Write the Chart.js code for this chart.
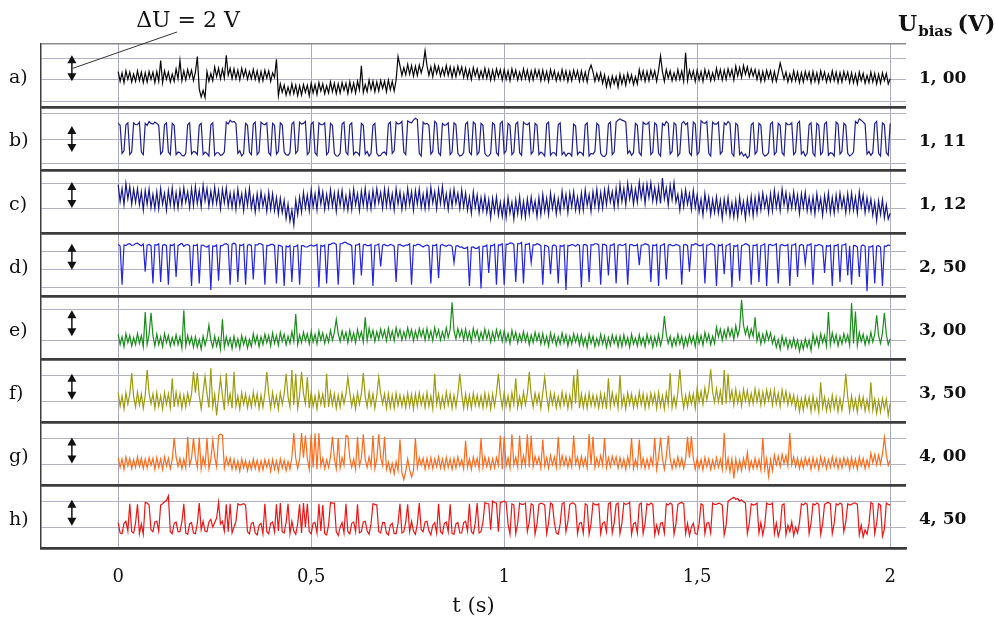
<!DOCTYPE html>
<html><head><meta charset="utf-8">
<script src="https://cdn.jsdelivr.net/npm/chart.js@4/dist/chart.umd.min.js"></script>
<style>html,body{margin:0;padding:0;background:#fff;}#wrap{position:relative;width:995px;height:619px;}</style>
</head><body><div id="wrap"><canvas id="c" width="995" height="619"></canvas></div>
<script>
// ---- data: voltage (V) relative to each panel's reference grid line, one sample every 5 ms ----
const T_END = 2.0;
const xTicks = [0, 0.5, 1, 1.5, 2];
const panelLabels = ['a)', 'b)', 'c)', 'd)', 'e)', 'f)', 'g)', 'h)'];
const biasLabels = ['1, 00', '1, 11', '1, 12', '2, 50', '3, 00', '3, 50', '4, 00', '4, 50'];
const DELTA_U = 2;

const sigA = [
0.65,-0.1,0.55,-0.2,0.7,0.05,0.6,-0.15,0.45,-0.1, 0.7,-0.05,0.6,-0.2,0.55,-0.15,0.65,0.05,0.6,-0.2,
0.65,-0.1,1.5,-0.2,0.7,0.05,0.6,-0.15,0.45,-0.1, 0.85,0.1,1.5,-0.05,0.7,0.0,0.8,0.2,0.75,-0.05,
0.6,1.8,-0.7,-1.3,-0.8,-1.35,0.65,-0.1,0.5,-0.05, 1.0,0.25,0.9,0.1,0.85,0.15,1.9,0.35,0.9,0.1,
0.85,0.1,0.75,0.0,0.9,0.25,0.8,0.05,0.65,0.1, 0.8,0.05,0.7,-0.1,0.65,-0.05,0.75,0.15,0.7,-0.1,
0.55,0.2,1.6,-1.2,-0.3,-0.95,-0.4,-1.15,-0.55,-1.1, -0.3,-1.05,-0.4,-1.2,-0.45,-1.15,-0.35,-0.95,-0.4,-1.2,
-0.25,-1.0,-0.35,-1.1,-0.2,-0.85,-0.3,-1.05,-0.45,-1.0, -0.15,-0.9,-0.25,-1.05,-0.3,-1.0,-0.2,-0.8,-0.25,-1.05,
-0.15,-0.9,-0.25,-1.0,-0.1,-0.75,1.1,-0.95,-0.35,-0.9, 0.0,-0.75,-0.1,-0.9,-0.15,-0.85,-0.05,-0.65,-0.1,-0.9,
0.0,-0.75,-0.1,-0.85,0.0,1.8,1.1,0.35,0.95,0.4, 1.2,0.45,1.1,0.3,1.05,0.35,1.15,0.55,1.1,2.25,
1.1,0.35,1.0,0.25,1.15,0.5,1.05,0.3,0.9,0.35, 1.1,0.35,1.0,0.2,0.95,0.25,1.05,0.45,1.0,0.2,
0.9,0.15,0.8,0.05,0.95,0.3,0.85,0.1,0.7,0.15, 0.9,0.15,0.8,0.0,0.75,0.05,0.85,0.25,0.8,0.0,
0.8,0.05,0.7,-0.05,0.85,0.2,0.75,0.0,0.6,0.05, 0.85,0.1,0.75,-0.05,0.7,0.0,0.8,0.2,0.75,-0.05,
0.75,0.0,0.65,-0.1,0.8,0.15,0.7,-0.05,0.55,0.0, 0.8,0.05,0.7,-0.1,0.65,-0.05,0.75,0.15,0.7,-0.1,
0.7,-0.05,0.6,-0.15,0.75,1.15,0.65,-0.1,0.5,-0.05, 0.55,-0.25,0.4,-0.5,0.2,-0.5,0.3,-0.3,0.25,-0.55,
0.45,-0.3,0.35,-0.4,0.5,-0.15,0.4,-0.35,0.25,-0.3, 0.8,0.05,0.7,-0.1,0.65,-0.05,0.75,0.15,0.7,-0.1,
0.75,1.85,0.65,-0.1,0.8,0.15,0.7,-0.05,0.55,0.0, 0.8,0.05,0.7,-0.1,2.1,-0.05,0.75,0.15,0.7,-0.1,
0.75,0.0,0.65,-0.1,0.8,0.15,0.7,-0.05,0.55,0.0, 0.9,0.15,0.8,0.0,0.75,0.05,0.85,0.25,0.8,0.0,
1.05,0.3,0.95,0.2,1.1,0.45,1.0,0.25,0.85,0.3, 0.8,0.05,0.7,-0.1,0.65,-0.05,0.75,0.15,0.7,-0.1,
0.65,-0.1,0.55,1.3,0.7,0.05,0.6,-0.15,0.45,-0.1, 0.7,-0.05,0.6,-0.2,0.55,-0.15,0.65,0.05,0.6,-0.2,
0.65,-0.1,0.55,-0.2,0.7,0.05,0.6,-0.15,0.45,-0.1, 0.7,-0.05,0.6,-0.2,0.55,-0.15,0.65,0.05,0.6,-0.2,
0.55,-0.2,0.45,-0.3,0.6,-0.05,0.5,-0.25,0.35,-0.2, 0.6,-0.15,0.5,-0.3,0.45,-0.25,0.55,-0.05,0.5,-0.3,
0.1];

const sigB = [
1.2,1.05,-1.1,-0.9,1.1,1.25,-1.2,-1.0,1.25,1.1, 1.1,1.3,-1.0,-1.2,1.2,1.05,1.35,1.2,1.15,1.3,
1.2,1.05,-1.15,-0.95,1.1,1.25,-1.0,-1.2,1.2,1.05, -1.2,-1.0,-1.05,-1.25,-1.3,-1.1,1.1,1.25,-1.15,-0.95,
-1.0,-1.2,1.05,1.2,-1.2,-1.0,-1.1,-1.3,1.1,1.25, -1.25,-1.05,-1.05,-1.25,-1.2,-1.0,1.3,1.15,1.45,1.3,
1.35,1.2,-1.1,-0.9,-1.3,-1.1,1.2,1.05,-1.0,-1.2, 1.15,1.3,-1.2,-1.0,1.3,1.15,1.1,1.25,-1.05,-1.25,
1.2,1.05,-1.15,-0.95,1.25,1.1,-1.0,-1.2,-1.25,-1.05, 1.15,1.3,-1.1,-0.9,1.3,1.15,1.2,1.35,-1.2,-1.0,
1.15,1.3,-1.05,-1.25,1.25,1.1,1.1,1.25,-1.2,-1.0, 1.2,1.05,-1.1,-1.3,-1.3,-1.1,1.15,1.3,-1.0,-1.2,
1.1,1.25,-1.2,-1.0,-1.05,-1.25,1.2,1.05,-1.15,-0.95, -1.3,-1.1,1.05,1.2,-1.1,-1.3,-1.25,-1.05,-1.0,-1.2,
1.15,1.3,-1.1,-0.9,1.3,1.15,1.2,1.35,-1.0,-1.2, 1.4,1.3,1.25,1.45,1.6,1.5,-1.1,-1.3,1.3,1.15,
1.2,1.05,-1.15,-0.95,1.35,1.2,-1.05,-1.25,1.2,1.05, 1.1,1.25,-1.2,-1.0,1.25,1.1,-1.1,-1.3,-1.25,-1.05,
1.15,1.3,-1.0,-1.2,1.3,1.15,-1.2,-1.0,1.2,1.05, -1.1,-1.3,-1.3,-1.1,1.25,1.1,-1.05,-1.25,1.2,1.35,
-1.1,-0.9,1.2,1.05,-1.2,-1.0,1.15,1.3,-1.05,-1.25, 1.3,1.15,1.1,1.25,-1.15,-0.95,1.2,1.05,-1.2,-1.0,
-1.1,-1.3,1.15,1.3,-1.25,-1.05,-1.05,-1.25,1.1,1.25, -1.2,-1.0,-1.3,-1.1,-1.1,-1.3,1.15,1.0,-1.2,-1.0,
-1.05,-1.25,1.1,1.25,-1.3,-1.1,-1.15,-0.95,1.2,1.05, -1.1,-1.3,-1.35,-1.15,1.15,1.3,-1.2,-1.0,1.3,1.45,
1.55,1.45,1.4,1.3,-1.1,-0.9,-1.25,-1.05,1.2,1.05, -1.05,-1.25,1.3,1.15,1.15,1.3,-1.2,-1.0,1.25,1.1,
-1.1,-1.3,1.2,1.05,1.35,1.2,-1.15,-0.95,1.25,1.1, -1.3,-1.1,1.2,1.35,1.1,1.25,-1.05,-1.25,1.3,1.15,
-1.2,-1.0,1.4,1.25,1.2,1.35,-1.1,-1.3,1.3,1.15, 1.15,1.3,-1.15,-0.95,1.25,1.1,1.35,1.2,-1.1,-1.3,
1.2,1.05,-1.2,-1.0,-1.3,-1.15,-1.45,-1.3,1.1,1.25, -1.15,-0.95,1.2,1.05,-1.1,-1.3,-1.25,-1.05,1.15,1.3,
-1.2,-1.0,1.2,1.05,-1.05,-1.25,1.25,1.1,1.1,1.25, -1.2,-1.0,1.2,1.35,-1.15,-0.95,-1.3,-1.1,1.1,1.25,
-1.1,-1.3,1.2,1.05,-1.2,-1.0,1.15,1.3,-1.25,-1.05, -1.1,-1.3,1.3,1.15,-1.15,-0.95,1.2,1.05,-1.1,-1.3,
-1.2,-1.0,1.35,1.2,1.55,1.45,1.3,1.15,-1.15,-0.95, -1.25,-1.05,1.2,1.35,-1.1,-1.3,1.25,1.1,-1.05,-1.25,
1.2];

const sigC = [
1.8,0.5,1.5,0.25,1.9,0.7,1.65,0.3,1.45,0.45, 1.5,0.25,1.25,-0.15,1.35,0.3,1.45,0.05,1.05,-0.05,
1.25,-0.05,1.5,0.3,1.15,-0.15,1.35,0.25,1.55,0.05, 1.2,0.0,1.4,0.25,1.55,0.45,1.25,0.05,1.5,0.2,
1.65,0.35,1.35,0.1,1.75,0.55,1.5,0.15,1.3,0.3, 1.6,0.35,1.35,-0.05,1.45,0.4,1.55,0.15,1.15,0.05,
1.2,-0.1,1.45,0.25,1.1,-0.2,1.3,0.2,1.5,0.0, 0.9,-0.3,1.1,-0.05,1.25,0.15,0.95,-0.25,1.2,-0.1,
1.1,-0.2,0.8,-0.45,0.75,-0.35,0.6,-0.8,0.3,-1.0, -0.15,-1.3,0.6,-0.5,0.85,-0.3,1.2,0.0,1.0,-0.2,
1.4,0.1,1.1,-0.15,1.5,0.3,1.25,-0.1,1.05,0.05, 1.4,0.15,1.15,-0.25,1.25,0.2,1.35,-0.05,0.95,-0.15,
1.2,-0.1,1.45,0.25,1.1,-0.2,1.3,0.2,1.5,0.0, 1.15,-0.05,1.35,0.2,1.5,0.4,1.2,0.0,1.45,0.15,
1.4,0.1,1.1,-0.15,1.5,0.3,1.25,-0.1,1.05,0.05, 1.5,0.25,1.25,-0.15,1.35,0.3,1.45,0.05,1.05,-0.05,
1.35,0.05,1.6,0.4,1.25,-0.05,1.45,0.35,1.65,0.15, 1.1,-0.1,1.3,0.15,1.45,0.35,1.15,-0.05,1.4,0.1,
1.15,-0.15,0.85,-0.4,1.25,0.05,1.0,-0.35,0.8,-0.2, 0.9,-0.35,0.65,-0.75,0.75,-0.3,0.85,-0.55,0.45,-0.65,
0.55,-0.75,0.8,-0.4,0.45,-0.85,0.65,-0.45,0.85,-0.65, 0.5,-0.7,0.7,-0.45,0.85,-0.25,0.55,-0.65,0.8,-0.5,
1.05,-0.25,0.75,-0.5,1.15,-0.05,0.9,-0.45,0.7,-0.3, 1.3,0.05,1.05,-0.35,1.15,0.1,1.25,-0.15,0.85,-0.25,
1.15,-0.15,1.4,0.2,1.05,-0.25,1.25,0.15,1.45,-0.05, 1.2,0.0,1.4,0.25,1.55,0.45,1.25,0.05,1.5,0.2,
1.8,0.5,1.5,0.25,1.9,0.7,1.65,0.3,1.45,0.45, 2.0,0.75,1.75,0.35,1.85,0.8,1.95,0.55,1.55,0.45,
1.65,0.35,2.3,0.7,1.55,0.25,1.75,0.65,1.95,0.45, 1.05,-0.15,1.25,0.1,1.4,0.3,1.1,-0.1,1.35,0.05,
1.0,-0.3,0.7,-0.55,1.1,-0.1,0.85,-0.5,0.65,-0.35, 0.85,-0.4,0.6,-0.8,0.7,-0.35,0.8,-0.6,0.4,-0.7,
0.6,-0.7,0.85,-0.35,0.5,-0.8,0.7,-0.4,0.9,-0.6, 0.8,-0.4,1.0,-0.15,1.15,0.05,0.85,-0.35,1.1,-0.2,
1.35,0.05,1.05,-0.2,1.45,0.25,1.2,-0.15,1.0,0.0, 1.25,0.0,1.0,-0.4,1.1,0.05,1.2,-0.2,0.8,-0.3,
0.85,-0.45,1.1,-0.1,0.75,-0.55,0.95,-0.15,1.15,-0.35, 0.8,-0.4,1.0,-0.15,1.15,0.05,0.85,-0.35,1.1,-0.2,
1.15,-0.15,0.85,-0.4,1.25,0.05,1.0,-0.35,0.8,-0.2, 0.7,-0.55,0.45,-0.95,0.55,-0.5,0.65,-0.75,0.25,-0.85,
-0.4];

const sigD = [
1.9,1.78,-1.2,1.85,1.8,1.92,1.95,1.82,1.85,1.97, 2.0,1.88,1.8,1.93,-0.2,1.84,1.9,1.8,-1.1,1.87,
1.85,1.95,-1.0,1.82,1.9,1.8,-1.2,1.86,1.8,1.93, -0.6,1.8,1.9,1.98,1.75,1.85,1.9,1.79,-1.3,1.84,
1.8,1.9,-1.1,1.83,1.85,1.74,1.7,1.82,-1.6,1.78, 1.75,1.86,-0.9,1.8,1.8,1.92,1.95,1.85,-1.2,1.9,
2.0,1.9,-1.0,1.86,1.8,1.92,-1.2,1.83,1.9,1.8, -0.8,1.88,1.85,1.96,1.95,1.84,-1.2,1.82,1.8,1.9,
1.9,1.8,-1.1,1.84,1.8,1.72,-1.3,1.78,1.7,1.82, -1.0,1.74,1.75,1.85,-1.2,1.8,1.8,1.7,1.7,1.8,
1.85,1.76,1.8,1.9,-1.4,1.82,1.75,1.85,-1.1,1.88, 1.9,2.0,2.0,1.9,-1.2,1.95,1.95,2.05,2.05,1.94,
1.9,1.8,-1.2,1.84,1.85,1.95,-0.5,1.86,1.9,1.8, 1.8,1.9,-1.3,1.82,1.85,1.93,0.2,1.84,1.9,1.8,
1.8,1.9,1.85,1.76,-1.0,1.86,1.9,1.8,1.75,1.85, 1.85,1.95,-1.2,1.84,1.8,1.9,1.9,1.8,1.7,1.8,
1.85,1.76,-1.1,1.84,1.8,1.9,-0.7,1.83,1.9,1.8, 1.75,1.85,1.85,1.74,0.5,1.78,1.8,1.68,1.7,1.6,
1.6,1.7,-1.3,1.68,1.7,1.6,1.6,1.72,-1.5,1.75, 1.75,1.85,-0.3,1.82,1.8,1.92,-1.2,1.86,1.85,1.95,
-1.2,1.92,1.9,2.02,2.0,1.9,-1.0,1.96,1.95,2.05, -1.1,1.9,1.9,1.98,0.5,1.88,1.85,1.95,1.9,1.8,
-1.2,1.84,1.8,1.7,-0.4,1.8,1.85,1.75,-1.1,1.8, 1.75,1.85,-1.6,1.82,1.8,1.9,1.85,1.76,1.9,1.82,
-1.4,1.86,1.9,1.8,-1.0,1.88,1.85,1.95,1.95,1.84, -1.2,1.9,1.9,1.8,-0.5,1.85,1.85,1.94,-1.1,1.82,
1.9,1.8,1.85,1.95,-1.2,1.86,1.9,1.8,1.8,1.9, 0.3,1.84,1.85,1.95,1.9,1.82,-1.0,1.85,1.8,1.9,
-1.3,1.82,1.85,1.95,-0.8,1.84,1.9,1.8,1.8,1.9, 1.85,1.76,-1.2,1.86,1.9,1.8,-0.2,1.88,1.85,1.95,
1.9,1.8,1.8,1.92,-1.1,1.84,1.85,1.95,1.9,1.8, -1.3,1.86,1.8,1.9,-0.4,1.82,1.85,1.94,-1.4,1.8,
1.75,1.85,-0.9,1.8,1.85,1.95,1.9,1.8,-1.2,1.84, 1.8,1.9,-1.0,1.82,1.85,1.94,-1.3,1.86,1.9,1.8,
1.85,1.95,-1.1,1.82,1.9,1.8,1.8,1.9,-1.3,1.84, 1.85,1.94,-0.6,1.8,1.9,1.82,0.4,1.86,1.85,1.95,
-1.2,1.84,1.8,1.9,1.85,1.76,-0.3,1.8,1.75,1.85, -1.3,1.82,1.8,1.9,-1.0,1.84,1.85,1.94,-0.5,1.8,
-1.2,1.82,1.8,1.7,-0.6,1.78,1.85,1.75,-1.7,1.72, 1.7,1.8,-1.1,1.76,1.8,1.7,-1.3,1.78,1.75,1.85,
1.8];

const sigE = [
0.45,-0.35,0.25,-0.5,0.5,-0.2,0.35,-0.45,0.2,-0.35, 0.5,-0.25,0.35,-0.5,2.15,-0.35,0.45,2.1,0.35,-0.45,
0.45,-0.35,0.25,-0.5,0.5,-0.2,0.35,-0.45,0.2,-0.35, 0.4,-0.35,0.25,-0.6,2.3,-0.45,0.35,-0.3,0.25,-0.55,
0.25,-0.55,0.05,-0.7,0.3,-0.4,0.15,1.15,0.0,-0.55, 0.3,-0.45,0.15,-0.7,1.6,-0.55,0.25,-0.4,0.15,-0.65,
0.3,-0.5,0.1,-0.65,0.35,-0.35,0.2,-0.6,0.05,-0.5, 0.5,-0.25,0.35,-0.5,0.25,-0.35,0.45,-0.2,0.35,-0.45,
0.55,-0.25,0.35,-0.4,0.6,-0.1,0.45,-0.35,0.3,-0.25, 0.65,-0.1,2.0,-0.35,0.4,-0.2,0.6,-0.05,0.5,-0.3,
0.65,-0.15,0.45,-0.3,0.7,0.0,0.55,-0.25,0.4,-0.15, 0.75,0.0,0.6,1.6,0.5,-0.1,0.7,0.05,0.6,-0.2,
0.75,-0.05,0.55,-0.2,0.8,0.1,0.65,-0.15,1.75,-0.05, 0.9,0.15,0.75,-0.1,0.65,0.05,0.85,0.2,0.75,-0.05,
0.9,0.1,0.7,-0.05,0.95,0.25,0.8,0.0,0.65,0.1, 0.95,0.2,0.8,-0.05,0.7,0.1,0.9,0.25,0.8,0.0,
0.9,0.1,0.7,-0.05,0.95,0.25,0.8,0.0,0.65,0.1, 0.95,0.2,0.8,2.9,0.7,0.1,0.9,0.25,0.8,0.0,
0.85,0.05,0.65,-0.1,0.9,0.2,0.75,-0.05,0.6,0.05, 0.85,0.1,0.7,-0.15,0.6,0.0,0.8,0.15,0.7,-0.1,
0.7,-0.1,0.5,-0.25,0.75,0.05,0.6,-0.2,0.45,-0.1, 0.65,-0.1,0.5,-0.35,0.4,-0.2,0.6,-0.05,0.5,-0.3,
0.5,-0.3,0.3,-0.45,0.55,-0.15,0.4,-0.4,0.25,-0.3, 0.55,-0.2,0.4,-0.45,0.3,-0.3,0.5,-0.15,0.4,-0.4,
0.4,-0.4,0.2,-0.55,0.45,-0.25,0.3,-0.5,0.15,-0.4, 0.45,-0.3,0.3,-0.55,0.2,-0.4,0.4,-0.25,0.3,-0.5,
0.3,-0.5,0.4,-0.35,0.2,-0.55,0.45,-0.3,0.15,-0.45, 0.4,-0.35,0.2,-0.5,0.45,-0.25,0.3,-0.55,0.25,-0.4,
0.4,-0.4,0.2,1.85,0.45,-0.25,0.3,-0.5,0.15,-0.4, 0.45,-0.3,0.3,-0.55,0.2,-0.4,0.4,-0.25,0.3,-0.5,
0.55,-0.25,0.35,-0.4,0.6,-0.1,0.45,-0.35,0.3,-0.25, 1.0,0.25,0.85,0.0,0.75,0.15,0.95,0.3,0.85,0.05,
1.1,0.3,0.9,3.1,1.15,0.45,1.0,0.2,0.85,0.3, 1.75,-0.05,0.55,-0.3,0.45,-0.15,0.65,0.0,0.55,-0.25,
0.25,-0.55,0.05,-0.7,0.3,-0.4,0.15,-0.65,0.0,-0.55, 0.15,-0.6,0.0,-0.85,-0.1,-0.7,0.1,-0.55,0.0,-0.8,
0.45,-0.35,0.25,-0.5,0.5,-0.2,0.35,-0.45,2.15,-0.35, 0.55,-0.2,0.4,-0.45,0.3,-0.3,0.5,-0.15,0.4,-0.4,
2.85,-0.25,2.2,-0.4,0.6,-0.1,0.45,-0.35,0.3,-0.25, 0.6,-0.15,0.45,1.9,0.35,-0.25,0.55,2.1,0.45,-0.35,
0.1];

const sigF = [
0.65,-0.4,0.4,-0.6,0.65,-0.25,0.55,2.15,0.35,-0.45, 0.7,-0.3,0.55,-0.55,0.45,2.4,0.6,-0.2,0.55,-0.55,
0.65,-0.4,0.4,-0.6,0.65,-0.25,0.55,-0.5,1.75,-0.45, 0.7,-0.3,0.55,-0.55,0.45,-0.45,0.6,-0.2,0.55,2.25,
0.65,2.15,0.4,-0.6,0.65,1.9,0.55,-0.5,2.55,-0.45, 0.5,-1.1,0.35,1.75,0.45,-0.7,2.15,-0.2,0.55,-0.55,
2.25,-0.4,0.4,-0.6,0.65,-0.25,0.55,-0.5,0.35,-0.45, 0.7,-0.3,0.55,-0.55,0.45,-0.45,0.6,2.25,0.55,-0.55,
0.65,-0.4,0.4,-0.6,0.65,-0.25,0.55,2.1,0.35,-0.45, 2.4,-0.3,2.1,-0.55,0.45,2.25,0.6,-0.2,1.85,-0.55,
0.65,-0.4,0.4,-0.6,0.65,-0.25,0.55,-0.5,2.1,-0.45, 0.7,-0.3,0.55,-0.55,0.45,-0.45,0.6,-0.2,0.55,1.85,
0.65,-0.4,0.4,-0.6,0.65,-0.25,0.55,2.15,0.35,-0.45, 0.7,-0.3,0.55,-0.55,0.45,1.85,0.6,-0.2,0.55,-0.55,
0.55,-0.5,0.45,-0.55,0.6,-0.35,0.45,-0.4,0.4,-0.5, 0.6,-0.4,0.5,-0.6,0.55,-0.4,0.65,-0.3,0.45,-0.5,
0.65,-0.4,0.4,-0.6,2.1,-0.25,0.55,-0.5,0.35,-0.45, 0.7,-0.3,0.55,-0.55,0.45,-0.45,0.6,2.1,0.55,-0.55,
0.55,-0.5,0.45,-0.55,0.6,-0.35,0.45,-0.4,0.4,-0.5, 0.6,-0.4,0.5,-0.6,0.55,-0.4,0.65,2.1,0.45,-0.5,
0.65,-0.4,0.4,-0.6,0.65,-0.25,1.75,-0.5,0.35,-0.45, 0.7,-0.3,0.55,2.25,0.45,-0.45,0.6,-0.2,0.55,-0.55,
0.65,1.85,0.4,-0.6,0.65,-0.25,0.55,-0.5,0.35,-0.45, 0.7,-0.3,0.55,-0.55,0.45,-0.45,2.0,-0.2,2.45,-0.55,
0.55,-0.5,0.45,-0.55,0.6,-0.35,0.45,-0.4,0.4,-0.5, 0.6,-0.4,0.5,-0.6,1.75,-0.4,0.65,-0.3,0.45,-0.5,
2.0,-0.4,0.4,-0.6,0.65,-0.25,0.55,-0.5,0.35,-0.45, 0.7,-0.3,0.55,-0.55,0.45,-0.45,0.6,-0.2,0.55,-0.55,
0.65,-0.4,0.4,-0.6,0.65,-0.25,2.15,-0.5,0.35,-0.45, 0.7,2.45,0.55,-0.55,0.45,-0.45,0.6,-0.2,0.55,-0.55,
1.0,-0.05,0.75,-0.25,1.0,0.1,0.9,2.45,0.7,-0.1, 0.95,-0.05,0.8,-0.3,2.4,-0.2,2.1,0.05,0.8,-0.3,
0.9,-0.15,0.65,-0.35,0.9,0.0,0.8,-0.25,0.6,-0.2, 0.95,-0.05,0.8,-0.3,0.7,-0.2,0.85,0.05,0.8,-0.3,
0.85,-0.2,0.6,-0.4,0.85,-0.05,0.75,-0.3,0.55,-0.25, 0.45,-0.55,0.3,-0.8,0.2,-0.7,0.35,-0.45,0.3,-0.8,
0.4,-0.65,0.15,-0.85,1.45,-0.5,0.3,-0.75,0.1,-0.7, 0.45,-0.55,0.3,-0.8,0.2,-0.7,0.35,2.1,0.3,-0.8,
0.4,-0.65,0.15,-0.85,0.4,-0.5,0.3,-0.75,0.1,-0.7, 1.45,-0.7,0.15,-0.95,0.05,-0.85,0.2,-0.6,0.15,-1.1,
-0.2];

const sigG = [
0.5,-0.25,0.4,-0.4,0.55,-0.15,0.45,-0.35,0.35,-0.25, 0.55,-0.2,0.45,-0.35,0.4,-0.3,0.5,-0.1,0.45,-0.4,
0.5,-0.25,0.4,-0.4,0.55,-0.15,0.45,-0.35,0.35,2.0, 0.55,-0.2,0.45,-0.35,0.4,-0.3,2.1,-0.1,0.45,2.0,
0.5,-0.25,2.05,-0.4,0.55,-0.15,2.0,-0.35,0.35,1.85, 0.55,-0.2,2.2,2.3,2.25,-0.3,0.5,-0.1,0.45,-0.4,
0.35,-0.4,0.25,-0.55,0.4,-0.3,0.3,-0.5,0.2,-0.4, 0.4,-0.35,0.3,-0.5,0.25,-0.45,0.35,-0.25,0.3,-0.55,
0.35,-0.4,0.25,-0.55,0.4,-0.3,0.3,-0.5,0.2,-0.4, 0.55,2.4,0.45,-0.35,0.4,2.4,0.5,2.2,0.45,-0.4,
2.3,-0.25,2.35,-0.4,2.4,-0.15,0.45,-0.35,0.35,-0.25, 0.55,2.1,0.45,-0.35,2.0,-0.3,0.5,-0.1,2.2,2.15,
0.5,-0.25,0.4,-0.4,2.1,-0.15,0.45,2.3,0.35,-0.25, 0.55,-0.2,2.2,-0.35,0.4,2.3,0.5,-0.1,2.1,-0.4,
0.15,-0.6,0.05,-0.75,0.2,-0.5,1.9,-0.65,-1.2,-0.55, 0.4,-0.45,-1.0,-0.5,2.0,-0.3,0.5,-0.1,0.45,-0.4,
0.45,-0.3,0.5,-0.35,0.4,-0.2,0.55,-0.3,0.4,-0.35, 0.5,-0.25,0.4,-0.4,0.45,-0.3,0.55,-0.15,0.35,-0.35,
1.8,-0.25,0.4,-0.4,0.55,-0.15,0.45,-0.35,2.0,-0.25, 0.55,-0.2,0.45,-0.35,0.4,-0.3,0.5,-0.1,2.2,-0.4,
2.1,-0.15,0.5,-0.3,2.3,-0.05,0.55,-0.25,2.2,-0.15, 0.65,-0.1,2.3,-0.25,2.2,-0.2,0.6,0.0,0.55,-0.3,
1.9,-0.15,0.5,-0.3,0.65,-0.05,0.55,-0.25,2.1,-0.15, 0.65,-0.1,0.55,-0.25,0.5,-0.2,2.2,0.0,0.55,-0.3,
0.6,-0.15,0.5,-0.3,2.3,-0.05,2.1,-0.25,0.45,-0.15, 0.65,-0.1,2.0,-0.25,0.5,-0.2,0.6,0.0,0.55,-0.3,
0.5,-0.25,0.4,-0.4,0.55,-0.15,2.0,-0.35,0.35,-0.25, 1.9,-0.2,0.45,-0.35,0.4,-0.3,0.5,-0.1,2.0,-0.4,
0.5,2.05,0.4,-0.4,0.55,2.2,0.45,-0.35,0.35,-0.25, 0.55,-0.2,0.45,-0.35,0.4,2.1,0.5,2.15,0.45,-0.4,
0.45,-0.3,0.35,-0.45,0.5,-0.2,0.4,-0.4,0.3,-0.3, 0.5,-0.25,0.4,-0.4,2.4,-0.35,0.45,-0.6,0.4,-1.1,
0.4,-0.5,0.3,-0.5,0.45,-0.25,0.9,-0.45,0.25,-0.35, 0.45,-0.3,0.35,-0.45,2.0,-0.4,0.4,-0.95,0.35,-0.5,
0.7,-0.05,0.6,-0.2,0.75,0.05,0.65,-0.15,2.4,-0.05, 0.55,-0.2,0.45,-0.35,0.4,-0.3,0.5,-0.1,0.45,-0.4,
0.5,-0.25,0.4,-0.4,0.55,-0.15,0.45,-0.35,0.35,-0.25, 0.55,-0.2,0.45,-0.35,0.4,-0.3,0.5,-0.1,0.45,-0.4,
0.5,-0.25,0.4,-0.4,0.55,-0.15,0.45,-0.35,0.35,-0.25, 0.85,0.1,0.75,-0.05,0.7,0.0,0.8,2.05,0.75,-0.1,
0.3];

const sigH = [
0.35,-0.45,-0.5,0.3,0.45,-0.3,1.8,-0.35,-0.45,0.35, 1.75,-0.5,0.25,-0.55,1.9,1.85,1.7,-0.2,-0.35,0.4,
0.45,-0.3,1.7,1.8,1.95,2.05,2.4,-0.35,-0.5,0.3, 0.4,-0.35,-0.35,0.4,1.8,-0.45,-0.55,0.25,0.35,-0.45,
-0.5,0.3,1.85,-0.2,0.45,-0.3,-0.35,0.4,0.6,0.0, 0.35,0.7,1.9,0.25,0.45,-0.3,1.75,-0.35,1.8,-0.45,
0.0,0.45,1.8,1.7,1.75,1.8,1.7,-0.35,-0.5,0.3, 0.35,-0.45,-0.6,0.15,0.3,-0.5,1.8,-0.35,-0.5,0.3,
0.4,-0.35,1.75,-0.3,1.85,-0.35,-0.45,0.35,1.8,-0.5, 0.45,-0.3,-0.55,0.25,1.75,-0.45,1.85,0.0,1.8,-0.35,
-0.5,0.3,0.35,-0.45,1.8,-0.3,1.7,-0.5,-0.6,0.15, 1.9,1.85,1.85,-0.35,-0.65,0.0,0.35,-0.45,1.8,-0.35,
-0.5,0.3,0.4,-0.35,1.75,-0.45,-0.35,0.4,0.45,-0.3, -0.55,0.25,1.8,1.75,1.7,-0.35,-0.45,0.35,0.35,-0.45,
-0.6,0.15,0.3,-0.5,-0.5,0.3,1.8,-0.45,-0.35,0.4, 1.75,-0.35,0.45,-0.3,-0.55,0.25,1.85,-0.2,-0.35,0.4,
0.45,-0.3,-0.6,0.15,0.35,-0.45,1.8,-0.35,-0.5,0.3, 0.4,-0.35,1.75,-0.5,-0.55,0.25,0.35,-0.45,-0.45,0.35,
0.45,-0.3,1.8,-0.35,-0.5,0.3,1.85,-0.45,-0.35,0.4, 1.9,1.8,1.8,-0.2,2.0,1.9,1.85,-0.35,1.9,1.95,
2.0,1.9,0.25,-0.55,1.8,1.7,-0.5,0.3,1.85,1.75, 1.75,1.85,-0.35,0.4,1.8,1.7,-0.55,0.25,1.75,1.85,
1.8,1.7,-0.5,0.3,1.85,1.75,0.35,-0.45,-0.55,0.25, 1.8,1.9,-0.35,0.4,1.75,1.85,1.85,1.7,-0.5,0.3,
0.35,-0.45,1.8,1.7,-0.55,0.25,1.85,1.75,1.7,1.8, -0.5,0.3,0.4,-0.35,1.8,1.9,-0.45,0.35,1.75,1.85,
-0.5,0.3,1.85,1.75,1.8,1.9,-0.55,0.25,0.35,-0.45, 1.75,1.85,-0.5,0.3,1.8,1.7,1.85,1.75,-0.6,0.15,
-0.5,0.3,0.35,-0.45,1.8,1.7,1.85,1.75,-0.55,0.25, 1.75,1.85,1.9,1.8,-0.5,0.3,-0.65,0.0,0.3,-0.5,
-0.55,0.25,1.8,1.7,-0.5,0.3,0.35,-0.45,1.85,1.75, 1.75,1.85,1.8,1.7,-0.6,0.15,2.0,2.1,2.2,2.3,
2.15,2.2,2.0,2.1,1.95,1.85,-0.5,0.3,1.8,1.7, 1.75,1.85,-0.45,0.35,-0.6,0.15,1.85,1.75,1.75,1.85,
-0.5,0.3,-0.7,-0.15,1.7,1.8,-0.6,0.15,-0.35,0.4, -0.65,0.0,-0.45,0.35,1.8,1.7,1.85,1.75,-0.5,0.3,
1.8,1.7,1.85,1.75,-0.55,0.25,1.75,1.85,1.9,1.8, -0.5,0.3,1.8,1.7,1.85,1.75,-0.35,0.4,1.8,1.7,
1.75,1.85,1.85,1.75,-0.6,0.15,-0.75,-0.2,-0.55,0.25, 1.9,1.8,-0.5,0.3,1.8,1.7,-0.7,-0.15,1.85,1.75,
1.7];

const seriesList = [sigA, sigB, sigC, sigD, sigE, sigF, sigG, sigH];
const seriesColors = ['#050505', '#1e1e8e', '#16168c', '#2424e0', '#1a8c1a', '#9c9c0c', '#ff6a1a', '#ee1414'];
// panel axis ranges (V) and reference grid lines (V)
const panelMax = [2.77, 2.46, 2.92, 2.77, 3.38, 3.23, 3.23, 3.23];
const panelMin = [-2.08, -2.38, -1.92, -2.08, -1.46, -1.62, -1.62, -1.62];
const panelGrid = [[1.69, 0, -1.62], [2.0, 0, -1.85], [1.92, 0], [1.38, 0, -1.38], [2.38, 0], [2.0, 0], [2.0, 0], [2.0, 0]];
const arrowBase = [-0.1, -1.0, 0.0, -0.05, 0.3, 0.1, 0.05, 0.1];
const ARROW_T = -0.12;

// ---- chart ----
const datasets = seriesList.map((vals, k) => ({
  data: vals.map((v, i) => ({x: i * T_END / (vals.length - 1), y: v})),
  yAxisID: 'y' + k,
  borderColor: seriesColors[k],
  borderWidth: 1.2,
  pointRadius: 0,
  tension: 0,
  fill: false
}));

const scales = {
  x: {
    type: 'linear', position: 'bottom', min: -0.2, max: 2.041,
    afterBuildTicks: s => { s.ticks = xTicks.map(v => ({value: v})); },
    grid: {color: '#a7a7c6', lineWidth: 1, drawTicks: false},
    border: {display: true, color: '#3a3a3a', width: 2.5},
    ticks: {padding: 18, color: '#111', font: {family: 'DejaVu Serif', size: 18},
            maxRotation: 0, autoSkip: false, callback: v => String(v).replace('.', ',')},
    title: {display: true, text: 't (s)', color: '#111', font: {family: 'DejaVu Serif', size: 21}, padding: {top: -12, bottom: 0}}
  }
};
for (let k = 0; k < 8; k++) {
  const mn = panelMin[k], mx = panelMax[k];
  scales['y' + k] = {
    type: 'linear', position: 'left', stack: 'panels', stackWeight: 1, weight: 8 - k,
    min: mn, max: mx, offset: false,
    afterBuildTicks: s => { s.ticks = [mn, ...panelGrid[k], mx].map(v => ({value: v})); },
    ticks: {display: false},
    grid: {
      drawTicks: false,
      color: c => {
        const v = c.tick ? c.tick.value : 0;
        if (k === 0 && v === mx) return '#8c8c8c';
        if (v === mn || v === mx) return '#3c3c3c';
        return '#b2b2c0';
      },
      lineWidth: c => {
        const v = c.tick ? c.tick.value : 0;
        if (k === 0 && v === mx) return 1.5;
        if (v === mn || v === mx) return 2.5;
        return 1;
      }
    },
    border: {display: true, color: '#3c3c3c', width: 1.5}
  };
}

const annot = {
  id: 'annot',
  afterDraw(chart) {
    const ctx = chart.ctx;
    const xs = chart.scales.x;
    const ax = xs.getPixelForValue(ARROW_T);
    ctx.save();
    ctx.fillStyle = '#111';
    ctx.strokeStyle = '#111';
    let aMid = 0;
    for (let k = 0; k < 8; k++) {
      const ys = chart.scales['y' + k];
      const cy = (ys.top + ys.bottom) / 2 + 3;
      ctx.textBaseline = 'middle';
      ctx.textAlign = 'left';
      ctx.font = '19px "DejaVu Serif"';
      ctx.fillText(panelLabels[k], 9, cy);
      ctx.font = 'bold 17px "DejaVu Serif"';
      ctx.fillText(biasLabels[k], 919, cy);
      const yTop = ys.getPixelForValue(arrowBase[k] + DELTA_U);
      const yBot = ys.getPixelForValue(arrowBase[k]);
      if (k === 0) aMid = (yTop + yBot) / 2;
      ctx.lineWidth = 1.5;
      ctx.beginPath(); ctx.moveTo(ax, yTop + 6); ctx.lineTo(ax, yBot - 6); ctx.stroke();
      ctx.beginPath(); ctx.moveTo(ax, yTop); ctx.lineTo(ax - 4.5, yTop + 8); ctx.lineTo(ax + 4.5, yTop + 8); ctx.closePath(); ctx.fill();
      ctx.beginPath(); ctx.moveTo(ax, yBot); ctx.lineTo(ax - 4.5, yBot - 8); ctx.lineTo(ax + 4.5, yBot - 8); ctx.closePath(); ctx.fill();
    }
    ctx.lineWidth = 1;
    ctx.strokeStyle = '#333';
    ctx.beginPath(); ctx.moveTo(ax + 1, aMid); ctx.lineTo(177, 32); ctx.stroke();
    ctx.textAlign = 'center';
    ctx.textBaseline = 'middle';
    ctx.font = '22px "DejaVu Serif"';
    ctx.fillText('ΔU = 2 V', 188, 21);
    ctx.textAlign = 'left';
    ctx.textBaseline = 'alphabetic';
    let x = 898;
    ctx.font = 'bold 22px "DejaVu Serif"';
    ctx.fillText('U', x, 31); x += ctx.measureText('U').width + 1;
    ctx.font = 'bold 15px "DejaVu Serif"';
    ctx.fillText('bias', x, 36); x += ctx.measureText('bias').width + 5;
    ctx.font = 'bold 22px "DejaVu Serif"';
    ctx.fillText('(V)', x, 31);
    ctx.restore();
  }
};

new Chart(document.getElementById('c'), {
  type: 'line',
  data: {datasets},
  options: {
    responsive: false,
    animation: false,
    devicePixelRatio: 1,
    layout: {padding: {left: 41, right: 89, top: 44, bottom: 0}},
    plugins: {legend: {display: false}, tooltip: {enabled: false}},
    scales
  },
  plugins: [annot]
});
</script>
</body></html>
